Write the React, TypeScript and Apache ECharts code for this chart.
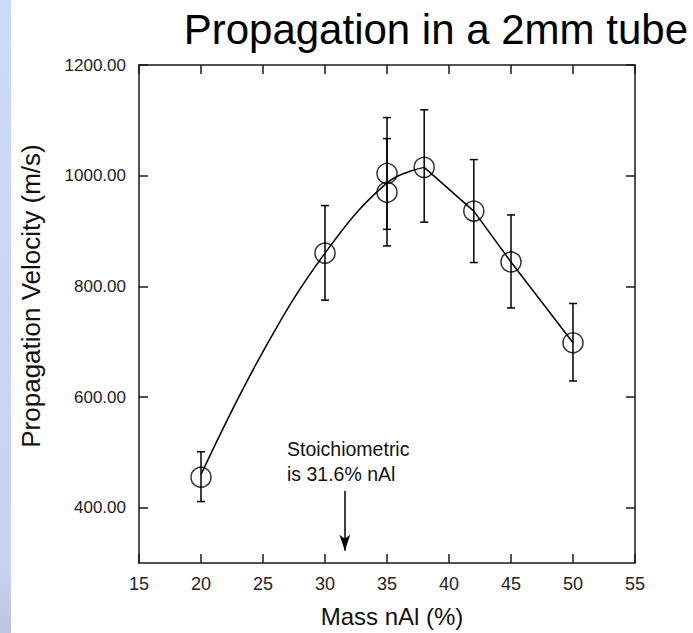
import React, { useEffect, useRef } from "react";
import * as echarts from "echarts";

// Measured points (Mass nAl %, propagation velocity m/s)
const massPct = [20, 30, 35, 35, 38, 42, 45, 50];
const velocity = [455, 860, 1004, 970, 1015, 936, 844, 698];
const errUpper = [501, 946, 1105, 1067, 1119, 1029, 929, 769];
const errLower = [411, 775, 903, 873, 916, 843, 761, 629];

// Fitted curve: smooth rising part, straight falling part
const fitRiseMass = [20, 25, 30, 35, 38];
const fitRiseVel = [460, 682, 860, 987, 1015];
const fitFallMass = [38, 42, 45, 50];
const fitFallVel = [1015, 936, 844, 698];

const yTickValues = [400, 600, 800, 1000, 1200];

// Stoichiometric marker
const stoichX = 31.6;
const arrowFrom = 430;
const arrowTo = 322;

const FONT = "'Liberation Sans', Arial, Helvetica, sans-serif";

export default function App() {
  const ref = useRef<HTMLDivElement>(null);

  useEffect(() => {
    if (!ref.current) return;
    const chart = echarts.init(ref.current, null, { renderer: "svg" });
    const axisLine = { show: true, onZero: false, lineStyle: { color: "#1a1a1a", width: 1.5 } };
    const tick = { show: true, inside: true, length: 9, lineStyle: { color: "#1a1a1a", width: 1.5 } };

    const option: any = {
      animation: false,
      backgroundColor: "#ffffff",
      textStyle: { fontFamily: FONT },
      grid: { left: 139, right: 58, top: 65, bottom: 69, containLabel: false },
      xAxis: [
        {
          type: "value",
          min: 15,
          max: 55,
          interval: 5,
          position: "bottom",
          axisLine,
          axisTick: tick,
          splitLine: { show: false },
          axisLabel: { margin: 12, fontSize: 18, color: "#222", fontFamily: FONT },
          name: "Mass nAl (%)",
          nameLocation: "middle",
          nameGap: 41,
          nameTextStyle: { fontSize: 24, color: "#111", fontFamily: FONT, padding: [0, 0, 0, 10] },
        },
        {
          type: "value",
          min: 15,
          max: 55,
          interval: 5,
          position: "top",
          axisLine,
          axisTick: tick,
          splitLine: { show: false },
          axisLabel: { show: false },
        },
      ],
      yAxis: [
        {
          type: "value",
          min: 300,
          max: 1200,
          position: "left",
          axisLine,
          axisTick: { ...tick, customValues: yTickValues },
          splitLine: { show: false },
          axisLabel: {
            customValues: yTickValues,
            formatter: (v: number) => v.toFixed(2),
            margin: 13,
            fontSize: 17,
            color: "#222",
            fontFamily: FONT,
          },
        },
        {
          type: "value",
          min: 300,
          max: 1200,
          position: "right",
          axisLine,
          axisTick: { ...tick, customValues: yTickValues },
          splitLine: { show: false },
          axisLabel: { show: false },
        },
      ],
      graphic: [
        {
          type: "rect",
          left: 0,
          top: 0,
          shape: { x: 0, y: 0, width: 11, height: 633 },
          style: {
            fill: new echarts.graphic.LinearGradient(0, 0, 0, 1, [
              { offset: 0, color: "#cdd9f8" },
              { offset: 0.9, color: "#c8d3f3" },
              { offset: 1, color: "#bcc5de" },
            ]),
          },
          silent: true,
        },
        {
          type: "text",
          x: 688,
          y: 29,
          style: {
            text: "Propagation in a 2mm tube",
            fontSize: 42,
            fontFamily: FONT,
            fill: "#000",
            align: "right",
            verticalAlign: "middle",
          },
        },
        {
          type: "text",
          x: 31,
          y: 296,
          rotation: Math.PI / 2,
          style: {
            text: "Propagation Velocity (m/s)",
            fontSize: 26,
            fontFamily: FONT,
            fill: "#111",
            align: "center",
            verticalAlign: "middle",
          },
        },
        {
          type: "text",
          x: 287,
          y: 436,
          style: {
            text: "Stoichiometric\nis 31.6% nAl",
            fontSize: 19.5,
            lineHeight: 25,
            fontFamily: FONT,
            fill: "#111",
            align: "left",
            verticalAlign: "top",
          },
        },
      ],
      series: [
        {
          type: "line",
          name: "fit-rise",
          data: fitRiseMass.map((m, i) => [m, fitRiseVel[i]]),
          smooth: 0.4,
          showSymbol: false,
          lineStyle: { color: "#000", width: 1.5 },
          z: 2,
          silent: true,
        },
        {
          type: "line",
          name: "fit-fall",
          data: fitFallMass.map((m, i) => [m, fitFallVel[i]]),
          smooth: false,
          showSymbol: false,
          lineStyle: { color: "#000", width: 1.5 },
          z: 2,
          silent: true,
        },
        {
          type: "custom",
          name: "error",
          data: massPct.map((m, i) => [m, errLower[i], errUpper[i]]),
          encode: { x: 0, y: [1, 2] },
          z: 3,
          silent: true,
          renderItem: (params: any, api: any) => {
            const x = api.value(0);
            const top = api.coord([x, api.value(2)]);
            const bot = api.coord([x, api.value(1)]);
            const cap = 4;
            const style = { stroke: "#000", lineWidth: 1.5 };
            return {
              type: "group",
              children: [
                { type: "line", shape: { x1: top[0], y1: top[1], x2: bot[0], y2: bot[1] }, style },
                { type: "line", shape: { x1: top[0] - cap, y1: top[1], x2: top[0] + cap, y2: top[1] }, style },
                { type: "line", shape: { x1: bot[0] - cap, y1: bot[1], x2: bot[0] + cap, y2: bot[1] }, style },
              ],
            };
          },
        },
        {
          type: "scatter",
          name: "data",
          data: massPct.map((m, i) => [m, velocity[i]]),
          symbol: "circle",
          symbolSize: 20,
          itemStyle: { color: "rgba(0,0,0,0)", borderColor: "#000", borderWidth: 1.5 },
          z: 4,
          silent: true,
          markLine: {
            silent: true,
            symbol: ["none", "arrow"],
            symbolSize: [8, 16],
            label: { show: false },
            lineStyle: { color: "#000", width: 1.5, type: "solid" },
            data: [[{ coord: [stoichX, arrowFrom] }, { coord: [stoichX, arrowTo] }]],
          },
        },
      ],
    };

    chart.setOption(option);
    return () => chart.dispose();
  }, []);

  return (
    <div
      ref={ref}
      style={{ position: "absolute", left: 0, top: 0, width: 693, height: 633 }}
    />
  );
}
